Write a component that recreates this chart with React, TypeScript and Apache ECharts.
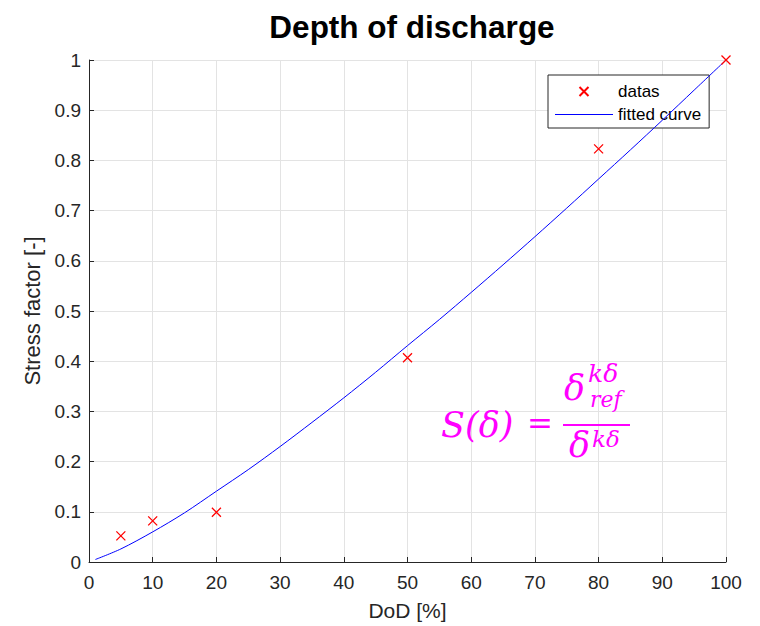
import React, { useEffect, useRef } from "react";
import * as echarts from "echarts";

const dodData = [5, 10, 20, 50, 80, 100];
const stressData = [0.052, 0.082, 0.099, 0.407, 0.823, 1.0];

const curveX = [1, 5, 10, 15, 20, 25, 30, 35, 40, 45, 50, 55, 60, 65, 70, 75, 80, 85, 90, 95, 100];
const curveY = [0.005, 0.026, 0.06, 0.098, 0.141, 0.184, 0.23, 0.278, 0.327, 0.378, 0.431, 0.483, 0.537, 0.592, 0.648, 0.705, 0.763, 0.821, 0.88, 0.94, 1.0];

const xTicks = [0, 10, 20, 30, 40, 50, 60, 70, 80, 90, 100];
const yTicks = [0, 0.1, 0.2, 0.3, 0.4, 0.5, 0.6, 0.7, 0.8, 0.9, 1];

const TXT = "#262626";
const MAG = "#ff00ff";
const SANS = "'Liberation Sans', Arial, sans-serif";
const EQF = "'DejaVu Serif', 'Liberation Serif', serif";

export default function App() {
  const ref = useRef<HTMLDivElement>(null);
  useEffect(() => {
    if (!ref.current) return;
    const chart = echarts.init(ref.current, undefined, { renderer: "svg" });
    const eqText = (text: string, x: number, y: number, size: number, italic = true) => ({
      type: "text",
      x,
      y,
      style: {
        text,
        fill: MAG,
        font: `${italic ? "italic " : ""}${size}px ${EQF}`,
        textVerticalAlign: "middle",
      },
      z: 10,
    });
    chart.setOption({
      animation: false,
      backgroundColor: "#ffffff",
      title: {
        text: "Depth of discharge",
        left: 407,
        textAlign: "center",
        top: 6,
        textStyle: { fontFamily: SANS, fontWeight: "bold", fontSize: 31.5, color: "#000" },
      },
      grid: { left: 89, right: 34, top: 60, bottom: 63, containLabel: false },
      legend: {
        orient: "vertical",
        left: 548,
        top: 75,
        padding: [8, 8, 5, 7],
        itemWidth: 58,
        itemHeight: 9,
        itemGap: 6,
        symbolKeepAspect: true,
        backgroundColor: "#ffffff",
        borderColor: "#262626",
        borderWidth: 1,
        borderRadius: 0,
        textStyle: { fontFamily: SANS, fontSize: 17, color: "#000" },
        data: [
          { name: "datas" },
          { name: "fitted curve", icon: "path://M0,0L58,0L58,1L0,1Z" },
        ],
      },
      xAxis: {
        type: "value",
        min: 0,
        max: 100,
        interval: 10,
        name: "DoD [%]",
        nameLocation: "middle",
        nameGap: 38,
        nameTextStyle: { fontFamily: SANS, fontSize: 21, color: TXT },
        axisLine: { lineStyle: { color: TXT, width: 1 } },
        axisTick: { inside: true, length: 5, lineStyle: { color: TXT } },
        axisLabel: { fontFamily: SANS, fontSize: 19, color: TXT, margin: 11, formatter: (v: number) => (xTicks.includes(v) ? String(v) : "") },
        splitLine: { show: true, lineStyle: { color: "#e3e3e3", width: 1 } },
      },
      yAxis: {
        type: "value",
        min: 0,
        max: 1,
        interval: 0.1,
        name: "Stress factor [-]",
        nameLocation: "middle",
        nameGap: 43,
        nameTextStyle: { fontFamily: SANS, fontSize: 22, color: TXT },
        axisLine: { show: true, lineStyle: { color: TXT, width: 1 } },
        axisTick: { show: true, inside: true, length: 5, lineStyle: { color: TXT } },
        axisLabel: {
          fontFamily: SANS,
          fontSize: 19,
          color: TXT,
          margin: 8,
          formatter: (v: number) => {
            const r = Math.round(v * 10) / 10;
            return yTicks.includes(r) ? String(r) : "";
          },
        },
        splitLine: { show: true, lineStyle: { color: "#e3e3e3", width: 1 } },
      },
      series: [
        {
          name: "datas",
          type: "scatter",
          data: dodData.map((d, i) => [d, stressData[i]]),
          symbol: "path://M0,0L10,10M10,0L0,10",
          symbolSize: 9,
          clip: false,
          itemStyle: { color: "none", borderColor: "#ff0000", borderWidth: 1.3, opacity: 1 },
          z: 5,
        },
        {
          name: "fitted curve",
          type: "line",
          data: curveX.map((d, i) => [d, curveY[i]]),
          symbol: "none",
          showSymbol: false,
          smooth: 0.3,
          lineStyle: { color: "#0000ff", width: 1 },
          itemStyle: { color: "#0000ff" },
          clip: false,
          z: 4,
        },
      ],
      graphic: [
        eqText("S(δ)", 441, 425, 35),
        eqText("=", 527, 423, 31, false),
        eqText("δ", 564, 388, 35),
        eqText("kδ", 588, 373, 25),
        eqText("ref", 590, 399, 22),
        { type: "line", shape: { x1: 563, y1: 425, x2: 630, y2: 425 }, style: { stroke: MAG, lineWidth: 2 }, z: 10 },
        eqText("δ", 569, 445, 35),
        eqText("kδ", 592, 439, 23),
      ],
    });
    return () => chart.dispose();
  }, []);
  return <div ref={ref} style={{ position: "absolute", left: 0, top: 0, width: 760, height: 626 }} />;
}
